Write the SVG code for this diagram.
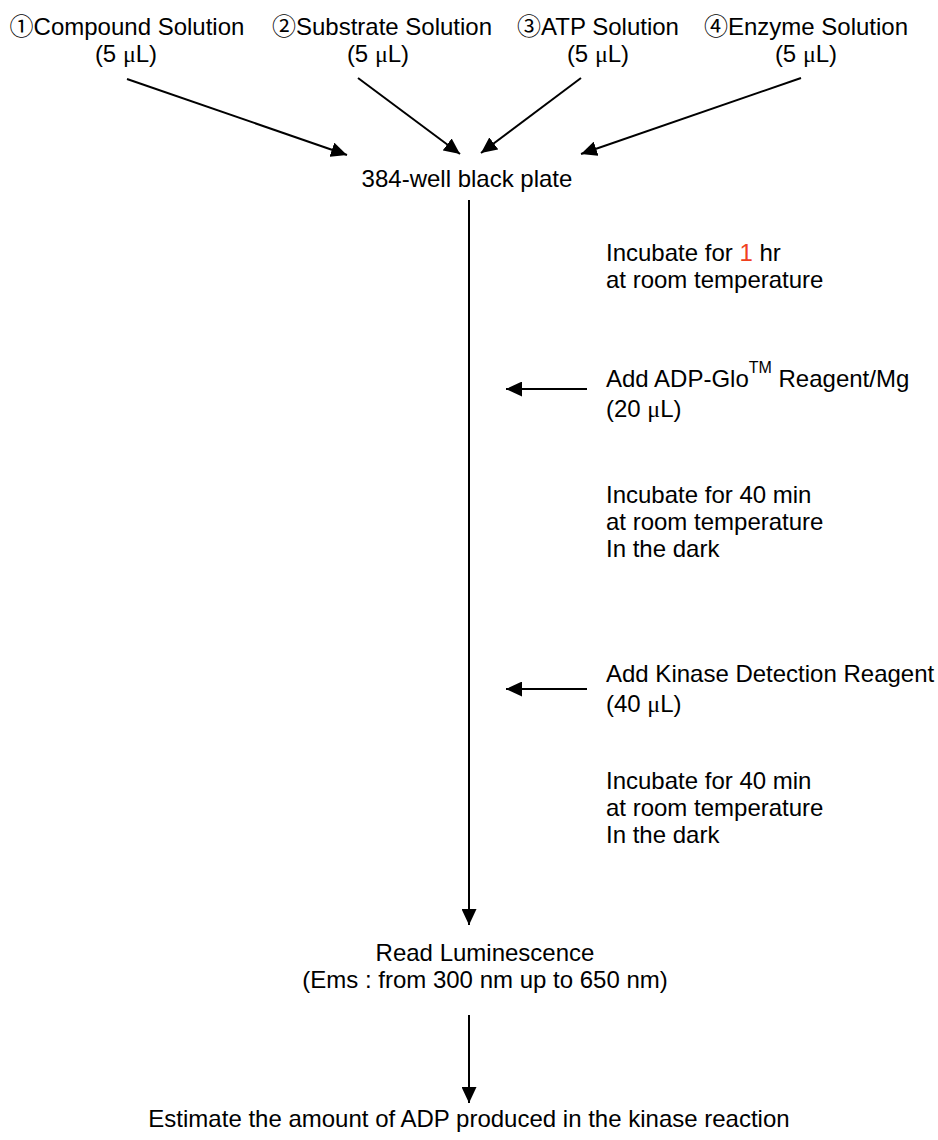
<svg xmlns="http://www.w3.org/2000/svg" width="938" height="1140" viewBox="0 0 938 1140">
<defs>
<style>
text{font-family:"Liberation Sans","Noto Sans CJK JP",Arial,sans-serif;font-size:24px;fill:#000}
.c{text-anchor:middle}
.mu{font-family:"Liberation Serif","DejaVu Serif",serif}
.red{fill:#F0401E}
.ln{stroke:#000;stroke-width:2;fill:none}
</style>
<marker id="ah" markerUnits="userSpaceOnUse" markerWidth="16" markerHeight="15" refX="16" refY="7.5" orient="auto" viewBox="0 0 16 15">
<path d="M0,0 L16,7.5 L0,15 z" fill="#000"/>
</marker>
</defs>
<rect width="938" height="1140" fill="#fff"/>
<g id="compound"><text class="c" x="127" y="35">①Compound Solution</text><text class="c" x="126" y="62">(5 <tspan class="mu">μ</tspan>L)</text></g>
<g id="substrate"><text class="c" x="382" y="35">②Substrate Solution</text><text class="c" x="378" y="62">(5 <tspan class="mu">μ</tspan>L)</text></g>
<g id="atp"><text class="c" x="598" y="35">③ATP Solution</text><text class="c" x="598" y="62">(5 <tspan class="mu">μ</tspan>L)</text></g>
<g id="enzyme"><text class="c" x="806" y="35">④Enzyme Solution</text><text class="c" x="806" y="62">(5 <tspan class="mu">μ</tspan>L)</text></g>
<g id="plate"><text class="c" x="467" y="187">384-well black plate</text></g>
<g id="incubate1"><text x="606" y="261">Incubate for <tspan class="red">1</tspan> hr</text><text x="606" y="288">at room temperature</text></g>
<g id="adpglo"><text x="606" y="387">Add ADP-Glo<tspan font-size="16" dy="-14">TM</tspan><tspan dy="14"> Reagent/Mg</tspan></text><text x="606" y="417">(20 <tspan class="mu">μ</tspan>L)</text></g>
<g id="incubate2"><text x="606" y="503">Incubate for 40 min</text><text x="606" y="530">at room temperature</text><text x="606" y="557">In the dark</text></g>
<g id="kinase"><text x="606" y="682">Add Kinase Detection Reagent</text><text x="606" y="712">(40 <tspan class="mu">μ</tspan>L)</text></g>
<g id="incubate3"><text x="606" y="789">Incubate for 40 min</text><text x="606" y="816">at room temperature</text><text x="606" y="843">In the dark</text></g>
<g id="read"><text class="c" x="485" y="961">Read Luminescence</text><text class="c" x="485" y="988">(Ems : from 300 nm up to 650 nm)</text></g>
<g id="estimate"><text class="c" x="469" y="1127">Estimate the amount of ADP produced in the kinase reaction</text></g>
<g id="connectors">
<line class="ln" x1="127" y1="79" x2="347" y2="155" marker-end="url(#ah)"/>
<line class="ln" x1="358" y1="78" x2="460" y2="154" marker-end="url(#ah)"/>
<line class="ln" x1="581" y1="78" x2="481" y2="153" marker-end="url(#ah)"/>
<line class="ln" x1="801" y1="78" x2="581" y2="154" marker-end="url(#ah)"/>
<line class="ln" x1="469" y1="200" x2="469" y2="925" marker-end="url(#ah)"/>
<line class="ln" x1="587" y1="389" x2="506" y2="389" marker-end="url(#ah)"/>
<line class="ln" x1="587" y1="689" x2="506" y2="689" marker-end="url(#ah)"/>
<line class="ln" x1="469" y1="1015" x2="469" y2="1103" marker-end="url(#ah)"/>
</g>
</svg>
